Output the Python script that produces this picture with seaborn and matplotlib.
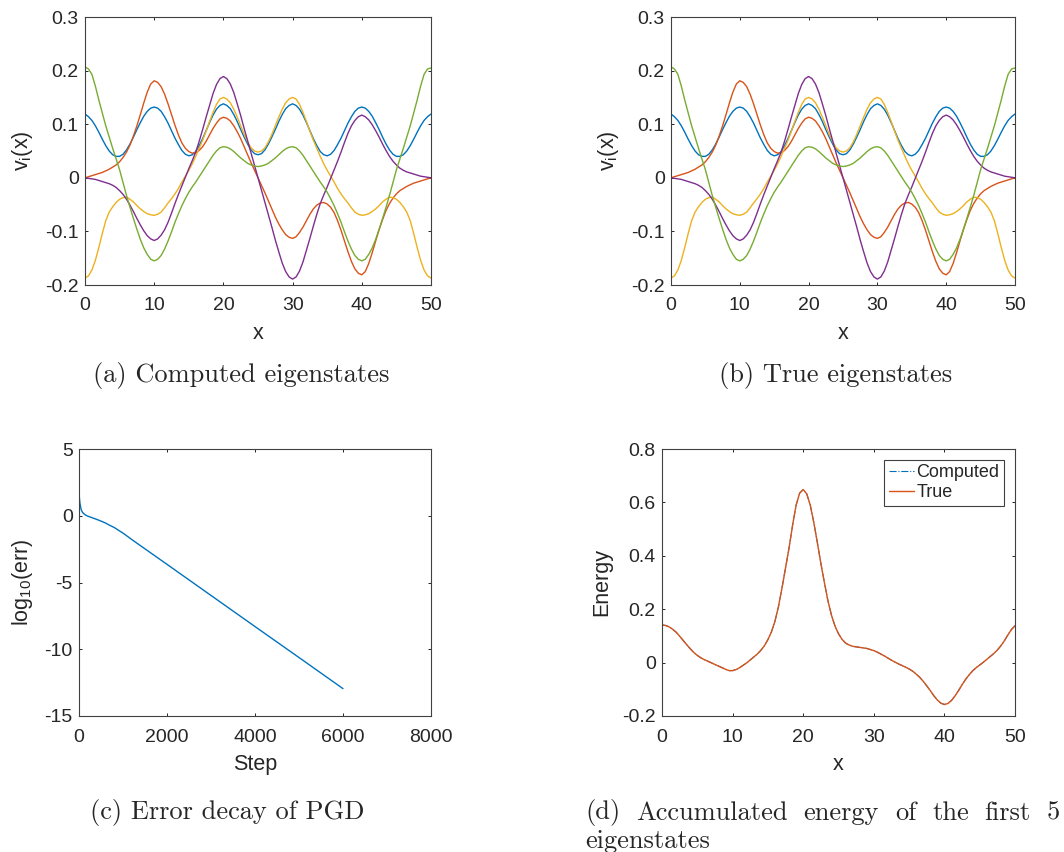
import numpy as np
import matplotlib
matplotlib.use('Agg')
import matplotlib.pyplot as plt
import seaborn as sns
from matplotlib.ticker import FuncFormatter

# grid x = 0, 0.5, ..., 50
x_grid = np.arange(0, 50.5, 0.5)

# eigenstates
v1 = [0.119, 0.114, 0.107, 0.097, 0.085, 0.072, 0.060, 0.050, 0.043, 0.040, 0.040,
      0.044, 0.052, 0.063, 0.076, 0.090, 0.103, 0.115, 0.124, 0.130, 0.132,
      0.130, 0.124, 0.114, 0.102, 0.088, 0.074, 0.062, 0.051, 0.044, 0.041,
      0.043, 0.049, 0.060, 0.073, 0.088, 0.103, 0.117, 0.128, 0.135, 0.138,
      0.135, 0.129, 0.118, 0.105, 0.090, 0.076, 0.063, 0.052, 0.045, 0.043,
      0.045, 0.052, 0.063, 0.076, 0.090, 0.105, 0.118, 0.129, 0.135, 0.138,
      0.135, 0.128, 0.117, 0.103, 0.088, 0.073, 0.060, 0.049, 0.043, 0.041,
      0.044, 0.051, 0.062, 0.074, 0.088, 0.102, 0.114, 0.124, 0.130, 0.132,
      0.130, 0.124, 0.115, 0.103, 0.090, 0.076, 0.063, 0.052, 0.044, 0.040,
      0.040, 0.043, 0.050, 0.060, 0.072, 0.085, 0.097, 0.107, 0.114, 0.119]
v2 = [0.000, 0.002, 0.004, 0.006, 0.008, 0.010, 0.013, 0.016, 0.020, 0.024, 0.030,
      0.038, 0.048, 0.061, 0.078, 0.097, 0.118, 0.140, 0.160, 0.175, 0.181,
      0.178, 0.170, 0.156, 0.138, 0.118, 0.098, 0.080, 0.065, 0.055, 0.049,
      0.046, 0.047, 0.051, 0.058, 0.068, 0.080, 0.092, 0.102, 0.110, 0.113,
      0.111, 0.106, 0.097, 0.086, 0.073, 0.058, 0.043, 0.028, 0.014, 0.000,
      -0.014, -0.028, -0.043, -0.058, -0.073, -0.086, -0.097, -0.106, -0.111, -0.113,
      -0.110, -0.102, -0.092, -0.080, -0.068, -0.058, -0.051, -0.047, -0.046, -0.049,
      -0.055, -0.065, -0.080, -0.098, -0.118, -0.138, -0.156, -0.170, -0.178, -0.181,
      -0.175, -0.160, -0.140, -0.118, -0.097, -0.078, -0.061, -0.048, -0.038, -0.030,
      -0.024, -0.020, -0.016, -0.013, -0.010, -0.008, -0.006, -0.004, -0.002, 0.000]
v3 = [-0.187, -0.183, -0.172, -0.154, -0.130, -0.104, -0.080, -0.064, -0.054, -0.046, -0.040,
      -0.037, -0.036, -0.040, -0.045, -0.052, -0.058, -0.063, -0.067, -0.069, -0.070,
      -0.068, -0.064, -0.056, -0.047, -0.039, -0.030, -0.020, -0.008, 0.003, 0.014,
      0.026, 0.040, 0.055, 0.070, 0.087, 0.105, 0.122, 0.137, 0.147, 0.150,
      0.147, 0.140, 0.128, 0.113, 0.097, 0.081, 0.067, 0.056, 0.050, 0.048,
      0.050, 0.056, 0.067, 0.081, 0.097, 0.113, 0.128, 0.140, 0.147, 0.150,
      0.147, 0.137, 0.122, 0.105, 0.087, 0.070, 0.055, 0.040, 0.026, 0.014,
      0.003, -0.008, -0.020, -0.030, -0.039, -0.047, -0.056, -0.064, -0.068, -0.070,
      -0.069, -0.067, -0.063, -0.058, -0.052, -0.045, -0.040, -0.036, -0.037, -0.040,
      -0.046, -0.054, -0.064, -0.080, -0.104, -0.130, -0.154, -0.172, -0.183, -0.187]
v4 = [0.000, -0.001, -0.002, -0.003, -0.005, -0.007, -0.009, -0.011, -0.014, -0.018, -0.024,
      -0.031, -0.040, -0.051, -0.063, -0.076, -0.088, -0.099, -0.108, -0.114, -0.117,
      -0.114, -0.107, -0.097, -0.083, -0.066, -0.048, -0.031, -0.015, 0.001, 0.017,
      0.032, 0.048, 0.068, 0.090, 0.113, 0.135, 0.157, 0.174, 0.185, 0.189,
      0.185, 0.175, 0.159, 0.138, 0.116, 0.092, 0.069, 0.046, 0.023, 0.000,
      -0.023, -0.046, -0.069, -0.092, -0.116, -0.138, -0.159, -0.175, -0.185, -0.189,
      -0.185, -0.174, -0.157, -0.135, -0.113, -0.090, -0.068, -0.048, -0.032, -0.017,
      -0.001, 0.015, 0.031, 0.048, 0.066, 0.083, 0.097, 0.107, 0.114, 0.117,
      0.114, 0.108, 0.099, 0.088, 0.076, 0.063, 0.051, 0.040, 0.031, 0.024,
      0.018, 0.014, 0.011, 0.009, 0.007, 0.005, 0.003, 0.002, 0.001, 0.000]
v5 = [0.207, 0.203, 0.193, 0.171, 0.145, 0.121, 0.097, 0.076, 0.055, 0.035, 0.015,
      -0.009, -0.033, -0.055, -0.076, -0.096, -0.115, -0.131, -0.143, -0.152, -0.155,
      -0.152, -0.145, -0.133, -0.118, -0.101, -0.083, -0.067, -0.052, -0.039, -0.027,
      -0.017, -0.008, 0.002, 0.012, 0.022, 0.032, 0.042, 0.050, 0.056, 0.058,
      0.057, 0.054, 0.049, 0.043, 0.037, 0.032, 0.027, 0.024, 0.022, 0.021,
      0.022, 0.024, 0.027, 0.032, 0.037, 0.043, 0.049, 0.054, 0.057, 0.058,
      0.056, 0.050, 0.042, 0.032, 0.022, 0.012, 0.002, -0.008, -0.017, -0.027,
      -0.039, -0.052, -0.067, -0.083, -0.101, -0.118, -0.133, -0.145, -0.152, -0.155,
      -0.152, -0.143, -0.131, -0.115, -0.096, -0.076, -0.055, -0.033, -0.009, 0.015,
      0.035, 0.055, 0.076, 0.097, 0.121, 0.145, 0.171, 0.193, 0.203, 0.205]
eig_computed = [v1, v2, v3, v4, v5]
eig_true = [v1, v2, v3, v4, v5]

# error decay of PGD
steps = [0, 10, 25, 50, 75, 100, 150, 200, 300, 400, 500, 600, 700, 800,
         1000, 1250, 2000, 3000, 4000, 5000, 6000]
log_err = [1.8, 1.3, 0.85, 0.45, 0.28, 0.18, 0.05, -0.03, -0.15, -0.27, -0.40,
           -0.54, -0.72, -0.88, -1.30, -1.90, -3.64, -5.97, -8.30, -10.62, -12.95]

# accumulated energy of the first 5 eigenstates
energy = [0.141, 0.139, 0.134, 0.125, 0.114, 0.099, 0.083, 0.067, 0.052, 0.038, 0.027,
          0.018, 0.011, 0.005, -0.001, -0.007, -0.013, -0.019, -0.025, -0.030, -0.030,
          -0.026, -0.019, -0.010, -0.001, 0.010, 0.021, 0.032, 0.046, 0.063, 0.086,
          0.115, 0.155, 0.210, 0.280, 0.355, 0.430, 0.515, 0.590, 0.635, 0.648,
          0.632, 0.590, 0.525, 0.450, 0.372, 0.300, 0.232, 0.178, 0.137, 0.108,
          0.087, 0.073, 0.066, 0.061, 0.059, 0.057, 0.055, 0.053, 0.049, 0.045,
          0.039, 0.032, 0.025, 0.017, 0.009, 0.002, -0.005, -0.011, -0.017, -0.024,
          -0.032, -0.043, -0.055, -0.070, -0.087, -0.105, -0.124, -0.140, -0.152, -0.157,
          -0.153, -0.142, -0.125, -0.105, -0.083, -0.063, -0.046, -0.031, -0.019, -0.009,
          0.001, 0.012, 0.023, 0.034, 0.047, 0.063, 0.082, 0.104, 0.124, 0.138]

colors = ['#0072BD', '#D95319', '#EDB120', '#7E2F8E', '#77AC30']

sns.set_style('ticks')
plt.rcParams['font.family'] = ['Liberation Sans', 'DejaVu Sans']
plt.rcParams['axes.unicode_minus'] = False
plt.rcParams['mathtext.default'] = 'regular'

W, H = 1064, 852
fig = plt.figure(figsize=(W / 100, H / 100), dpi=100)


def box(l, t, r, b):
    return [l / W, 1 - b / H, (r - l) / W, (b - t) / H]


def style(ax, xticks, yticks):
    ax.set_xlim(xticks[0], xticks[-1])
    ax.set_ylim(yticks[0], yticks[-1])
    ax.set_xticks(xticks)
    ax.set_yticks(yticks)
    fmt = FuncFormatter(lambda v, p: f'{v:g}')
    ax.xaxis.set_major_formatter(fmt)
    ax.yaxis.set_major_formatter(fmt)
    ax.tick_params(direction='in', length=2.5, width=0.7, top=True, right=True,
                   labelsize=14, colors='#262626')
    ax.tick_params(axis='x', pad=9)
    ax.tick_params(axis='y', pad=4.5)
    for s in ax.spines.values():
        s.set_color('#404040')
        s.set_linewidth(0.8)


ax_a = fig.add_axes(box(85, 17, 431, 285))
ax_b = fig.add_axes(box(671, 17, 1015, 285))
ax_c = fig.add_axes(box(79, 449, 431, 716))
ax_d = fig.add_axes(box(662, 449, 1015, 716))

lab = dict(fontsize=15.5, color='#262626')

for ax, data in [(ax_a, eig_computed), (ax_b, eig_true)]:
    for v, c in zip(data, colors):
        sns.lineplot(x=x_grid, y=v, ax=ax, color=c, linewidth=1.0)
    style(ax, [0, 10, 20, 30, 40, 50], [-0.2, -0.1, 0, 0.1, 0.2, 0.3])
    ax.set_xlabel('x', labelpad=6, **lab)
    ax.set_ylabel('v$_i$(x)', labelpad=7, **lab)

sns.lineplot(x=steps, y=log_err, ax=ax_c, color=colors[0], linewidth=1.0)
style(ax_c, [0, 2000, 4000, 6000, 8000], [-15, -10, -5, 0, 5])
ax_c.set_xlabel('Step', labelpad=6, **lab)
ax_c.set_ylabel('log$_{10}$(err)', labelpad=7, **lab)

sns.lineplot(x=x_grid, y=energy, ax=ax_d, color=colors[0], linewidth=0.8,
             linestyle='-.', label='Computed')
sns.lineplot(x=x_grid, y=energy, ax=ax_d, color=colors[1], linewidth=1.0,
             label='True')
style(ax_d, [0, 10, 20, 30, 40, 50], [-0.2, 0, 0.2, 0.4, 0.6, 0.8])
ax_d.set_xlabel('x', labelpad=6, **lab)
ax_d.set_ylabel('Energy', labelpad=7, **lab)
leg = ax_d.legend(loc='upper right', bbox_to_anchor=(0.969, 0.959), borderaxespad=0,
                  fancybox=False, edgecolor='#404040', framealpha=1, fontsize=13,
                  handlelength=1.4, handletextpad=0.15, borderpad=0.25, labelspacing=0.15)
leg.get_frame().set_linewidth(0.8)

# captions (LaTeX-like serif)
cap = dict(family='cmr10', fontsize=19, va='center')
fig.text(241 / W, 1 - 376 / H, '(a) Computed eigenstates', ha='center', **cap)
fig.text(836 / W, 1 - 376 / H, '(b) True eigenstates', ha='center', **cap)
fig.text(227 / W, 1 - 813 / H, '(c) Error decay of PGD', ha='center', **cap)

# justified first line of caption (d)
words = ['(d)', 'Accumulated', 'energy', 'of', 'the', 'first', '5']
left, right = 585, 1060
renderer = fig.canvas.get_renderer()
texts = [fig.text(0, 1 - 813 / H, w, ha='left', **cap) for w in words]
widths = [t.get_window_extent(renderer).width for t in texts]
gap = (right - left - sum(widths)) / (len(words) - 1)
xpos = left
for t, w in zip(texts, widths):
    t.set_x(xpos / W)
    xpos += w + gap
fig.text(left / W, 1 - 841 / H, 'eigenstates', ha='left', **cap)

plt.savefig('out.png', dpi=100)
